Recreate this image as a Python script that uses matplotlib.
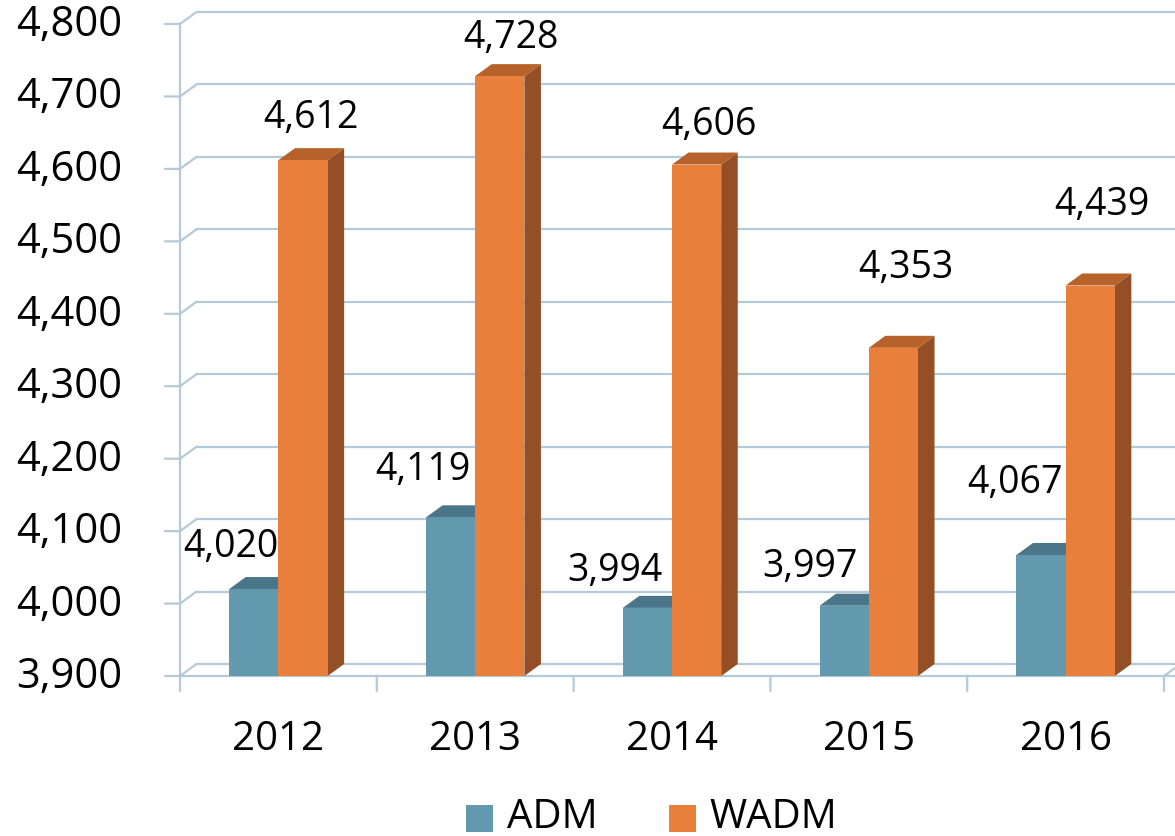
import matplotlib
matplotlib.use("Agg")
import matplotlib.pyplot as plt
from matplotlib.patches import Polygon, Rectangle

plt.rcParams['font.family'] = ['Open Sans', 'DejaVu Sans']

# data
years = ['2012', '2013', '2014', '2015', '2016']
adm = [4020, 4119, 3994, 3997, 4067]
wadm = [4612, 4728, 4606, 4353, 4439]
y_ticks = [3900, 4000, 4100, 4200, 4300, 4400, 4500, 4600, 4700, 4800]

# label offsets in pixels (dx, dy) from the bar top centre
adm_off = [(-23, 43), (-28, 48), (-32, 38), (-34, 40), (-26, 73)]
wadm_off = [(8, 43), (11, 39), (12, 41), (12, 81), (12, 82)]

# colours
grid_c = '#B4CAD8'
blue, blue_top = '#6399AF', '#4B7689'
orange, orange_top, orange_side = '#E8803C', '#B8622B', '#954F26'

ymin, ymax = 3900, 4800
bw = 0.25             # bar width (category units)
dx, dy = 0.084, 16.6  # depth offset in data units

fig = plt.figure(figsize=(11.75, 8.37), dpi=100)
ax = fig.add_axes([180 / 1175, 160 / 837, 984 / 1175, 652 / 837])
ax.set_xlim(-0.5, len(years) - 0.5)
ax.set_ylim(ymin, ymax)
for s in ax.spines.values():
    s.set_visible(False)
ax.set_xticks([])
ax.set_yticks([])

x_left = -0.5
x_right = len(years) - 0.5

# back wall gridlines + little diagonal connectors
for v in y_ticks:
    ax.plot([x_left + dx, x_right + 0.3], [v + dy, v + dy], color=grid_c, lw=1.6,
            clip_on=False, zorder=1)
    ax.plot([x_left, x_left + dx], [v, v + dy], color=grid_c, lw=1.6,
            clip_on=False, zorder=1)
    # outward tick on the front axis
    ax.annotate('', xy=(x_left, v), xytext=(-15, 0), textcoords='offset pixels',
                arrowprops=dict(arrowstyle='-', color=grid_c, lw=1.6,
                                shrinkA=0, shrinkB=0), annotation_clip=False)

# front axes
ax.plot([x_left, x_left], [ymin, ymax], color=grid_c, lw=1.6, clip_on=False, zorder=2)
ax.plot([x_left, x_right + 0.3], [ymin, ymin], color=grid_c, lw=1.6, clip_on=False, zorder=2)
ax.plot([x_right, x_right + dx], [ymin, ymin + dy], color=grid_c, lw=1.6,
        clip_on=False, zorder=2)
for i in range(len(years) + 1):
    ax.annotate('', xy=(i - 0.5, ymin), xytext=(0, -15), textcoords='offset pixels',
                arrowprops=dict(arrowstyle='-', color=grid_c, lw=1.6,
                                shrinkA=0, shrinkB=0), annotation_clip=False)

# y tick labels
for v in y_ticks:
    ax.annotate(f'{v:,}', xy=(x_left, v), xytext=(-58, 0), textcoords='offset pixels',
                ha='right', va='center', fontsize=30, annotation_clip=False)

# x tick labels
for i, yr in enumerate(years):
    ax.annotate(yr, xy=(i, ymin), xytext=(0, -63), textcoords='offset pixels',
                ha='center', va='center', fontsize=29, annotation_clip=False)


def bar3d(x0, v, front, top, side, z):
    ax.add_patch(Polygon([(x0 + bw, ymin), (x0 + bw + dx, ymin + dy),
                          (x0 + bw + dx, v + dy), (x0 + bw, v)],
                         closed=True, fc=side, ec='none', zorder=z))
    ax.add_patch(Polygon([(x0, v), (x0 + dx, v + dy), (x0 + bw + dx, v + dy), (x0 + bw, v)],
                         closed=True, fc=top, ec='none', zorder=z))
    ax.add_patch(Rectangle((x0, ymin), bw, v - ymin, fc=front, ec='none', zorder=z + 0.5))


for i in range(len(years)):
    bar3d(i - bw, adm[i], blue, blue_top, blue_top, 3)
    bar3d(i, wadm[i], orange, orange_top, orange_side, 5)

# data labels
for i in range(len(years)):
    ax.annotate(f'{adm[i]:,}', xy=(i - bw / 2, adm[i]), xytext=adm_off[i],
                textcoords='offset pixels', ha='center', va='center', fontsize=27,
                zorder=10, annotation_clip=False)
    ax.annotate(f'{wadm[i]:,}', xy=(i + bw / 2, wadm[i]), xytext=wadm_off[i],
                textcoords='offset pixels', ha='center', va='center', fontsize=27,
                zorder=10, annotation_clip=False)

# legend
fig.patches.append(Rectangle((466 / 1175, 1 - 833 / 837), 27 / 1175, 27 / 837,
                             transform=fig.transFigure, fc=blue, ec='none'))
fig.text(507 / 1175, 1 - 818 / 837, 'ADM', fontsize=29, va='center', ha='left')
fig.patches.append(Rectangle((669 / 1175, 1 - 833 / 837), 27 / 1175, 27 / 837,
                             transform=fig.transFigure, fc=orange, ec='none'))
fig.text(709 / 1175, 1 - 818 / 837, 'WADM', fontsize=29, va='center', ha='left')

fig.savefig('out.png', dpi=100)
